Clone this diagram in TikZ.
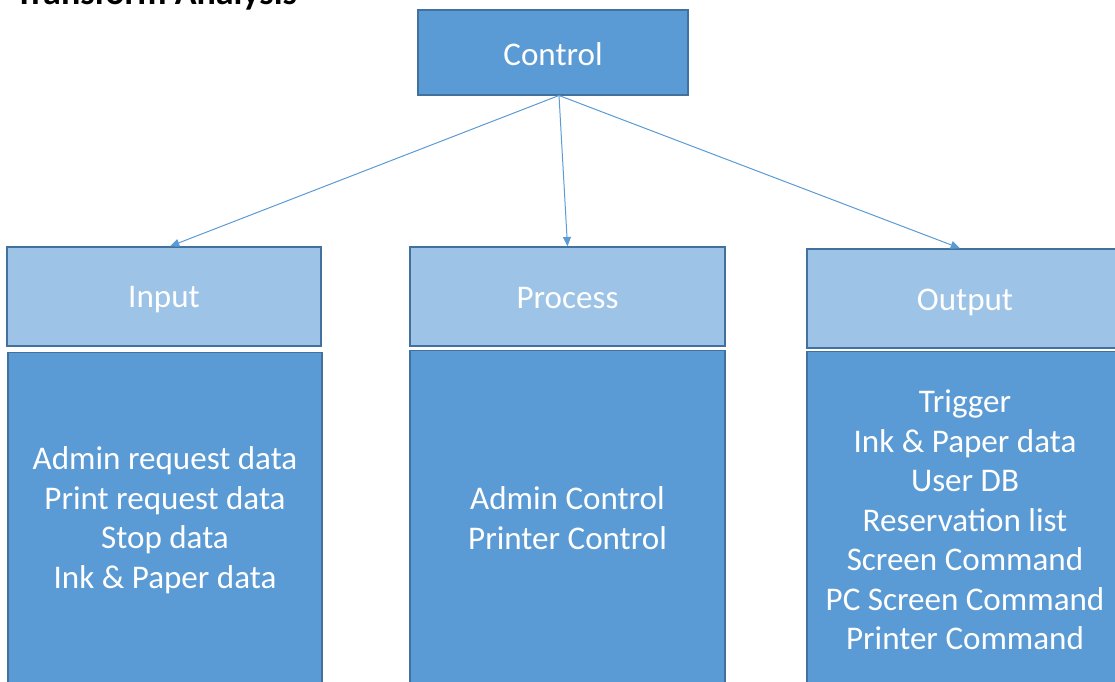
\documentclass[tikz,border=0pt]{standalone}
\usepackage{fontspec}
\setmainfont{Carlito}
\usetikzlibrary{arrows.meta}
\definecolor{dark}{HTML}{5B9BD5}
\definecolor{light}{HTML}{9DC3E6}
\definecolor{edge}{HTML}{41719C}
\tikzset{
  box/.style={draw=edge, line width=1.1pt, inner sep=0pt, text=white,
    font=\fontsize{24.8}{29.6}\selectfont, align=center},
  darkbox/.style={box, fill=dark},
  lightbox/.style={box, fill=light},
  lbl/.style={text=white, inner sep=0pt, font=\fontsize{24.8}{29.6}\selectfont},
  conn/.style={draw=dark, line width=0.75pt, -{Triangle[length=7pt,width=6pt]}}
}
\begin{document}
\begin{tikzpicture}[x=0.75pt,y=-0.75pt]
\useasboundingbox (0,0) rectangle (1115,682);
\clip (0,0) rectangle (1115,682);
\node[anchor=base west, font=\fontsize{27}{30}\selectfont\bfseries, inner sep=0pt] (title) at (15,4) {Transform Analysis};
\node[darkbox, minimum width={270*0.75pt}, minimum height={85*0.75pt}] (ctrl) at (553,52.5) {};
\node[lbl] (ctrlt) at ([yshift=-1.5pt]ctrl.center) {Control};
\node[lightbox, minimum width={314*0.75pt}, minimum height={99*0.75pt}] (inh) at (164,296.5) {};
\node[lbl] (inht) at ([yshift=-2.6pt]inh.center) {Input};
\node[darkbox, minimum width={314*0.75pt}, minimum height={335*0.75pt}] (inb) at (165,520) {Admin request data\\Print request data\\Stop data\\Ink \& Paper data};
\node[lightbox, minimum width={315*0.75pt}, minimum height={99*0.75pt}] (prh) at (567.5,296.5) {};
\node[lbl] (prht) at ([yshift=-1.5pt]prh.center) {Process};
\node[darkbox, minimum width={315*0.75pt}, minimum height={335*0.75pt}] (prb) at (567.5,518) {Admin Control\\Printer Control};
\node[lightbox, minimum width={316*0.75pt}, minimum height={99*0.75pt}] (ouh) at (965,298.5) {};
\node[lbl] (ouht) at ([yshift=-2.6pt]ouh.center) {Output};
\node[darkbox, minimum width={316*0.75pt}, minimum height={337*0.75pt}] (oub) at (965,520) {Trigger\\Ink \& Paper data\\User DB\\Reservation list\\Screen Command\\PC Screen Command\\Printer Command};
\coordinate (c0) at (559,95.5);
\draw[conn] (c0) -- ([xshift=4.5pt]inh.north);
\draw[conn] (c0) -- (prh.north);
\draw[conn] (c0) -- ([xshift=-3.75pt]ouh.north);
\end{tikzpicture}
\end{document}
